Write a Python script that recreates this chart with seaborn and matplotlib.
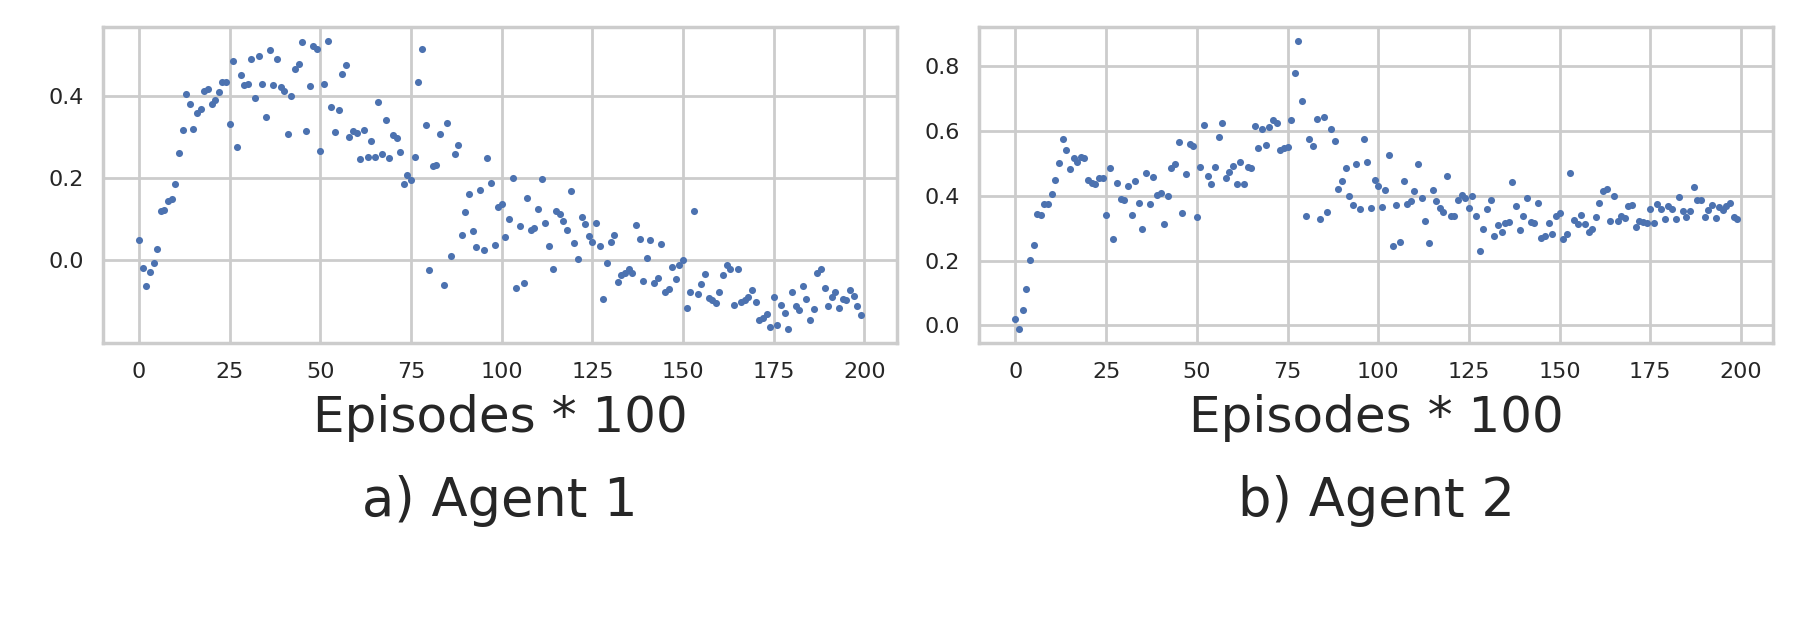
import numpy as np
import pandas as pd
import matplotlib
matplotlib.use('Agg')
import matplotlib.pyplot as plt
import seaborn as sns

# Agent 1 reward per 100 episodes
agent1 = [
    0.050, -0.019, -0.063, -0.028, -0.007, 0.028, 0.121, 0.123, 0.145, 0.149,
    0.185, 0.262, 0.318, 0.405, 0.381, 0.320, 0.359, 0.368, 0.412, 0.416,
    0.381, 0.390, 0.409, 0.433, 0.435, 0.333, 0.485, 0.277, 0.451, 0.428,
    0.430, 0.491, 0.396, 0.498, 0.430, 0.350, 0.512, 0.426, 0.489, 0.423,
    0.413, 0.307, 0.400, 0.466, 0.479, 0.531, 0.316, 0.424, 0.521, 0.515,
    0.266, 0.429, 0.533, 0.374, 0.312, 0.366, 0.454, 0.475, 0.300, 0.314,
    0.311, 0.246, 0.317, 0.251, 0.290, 0.251, 0.386, 0.259, 0.341, 0.249,
    0.304, 0.297, 0.265, 0.187, 0.207, 0.195, 0.252, 0.435, 0.515, 0.330,
    -0.023, 0.229, 0.231, 0.308, -0.061, 0.334, 0.010, 0.260, 0.281, 0.063,
    0.117, 0.162, 0.072, 0.033, 0.172, 0.025, 0.249, 0.189, 0.038, 0.129,
    0.137, 0.058, 0.101, 0.201, -0.068, 0.083, -0.056, 0.152, 0.073, 0.080,
    0.126, 0.199, 0.091, 0.034, -0.022, 0.120, 0.113, 0.095, 0.074, 0.169,
    0.042, 0.003, 0.106, 0.089, 0.060, 0.044, 0.091, 0.036, -0.095, -0.006,
    0.045, 0.063, -0.052, -0.035, -0.030, -0.022, -0.030, 0.087, 0.053, -0.051,
    0.006, 0.049, -0.054, -0.043, 0.040, -0.077, -0.070, -0.017, -0.045, -0.012,
    0.002, -0.115, -0.078, 0.121, -0.081, -0.057, -0.032, -0.092, -0.096, -0.104,
    -0.076, -0.036, -0.011, -0.022, -0.108, -0.022, -0.102, -0.097, -0.090, -0.072,
    -0.102, -0.146, -0.140, -0.130, -0.162, -0.090, -0.156, -0.108, -0.128, -0.166,
    -0.077, -0.112, -0.121, -0.062, -0.093, -0.145, -0.117, -0.030, -0.020, -0.066,
    -0.110, -0.090, -0.078, -0.116, -0.095, -0.097, -0.073, -0.086, -0.110, -0.133,
]

# Agent 2 reward per 100 episodes
agent2 = [
    0.021, -0.010, 0.048, 0.112, 0.203, 0.249, 0.345, 0.341, 0.375, 0.374,
    0.405, 0.449, 0.502, 0.574, 0.542, 0.483, 0.516, 0.504, 0.520, 0.515,
    0.447, 0.439, 0.437, 0.454, 0.456, 0.341, 0.484, 0.267, 0.438, 0.390,
    0.387, 0.429, 0.342, 0.444, 0.378, 0.297, 0.470, 0.375, 0.457, 0.403,
    0.409, 0.313, 0.400, 0.487, 0.499, 0.565, 0.347, 0.468, 0.559, 0.552,
    0.334, 0.488, 0.618, 0.462, 0.435, 0.489, 0.581, 0.623, 0.454, 0.473,
    0.492, 0.435, 0.505, 0.437, 0.489, 0.485, 0.615, 0.547, 0.606, 0.557,
    0.613, 0.632, 0.625, 0.542, 0.548, 0.551, 0.634, 0.778, 0.876, 0.691,
    0.337, 0.575, 0.552, 0.637, 0.327, 0.644, 0.349, 0.605, 0.569, 0.421,
    0.445, 0.485, 0.398, 0.370, 0.497, 0.359, 0.574, 0.505, 0.361, 0.448,
    0.430, 0.364, 0.417, 0.525, 0.244, 0.371, 0.256, 0.445, 0.374, 0.383,
    0.415, 0.497, 0.394, 0.322, 0.253, 0.418, 0.383, 0.363, 0.349, 0.461,
    0.338, 0.337, 0.388, 0.403, 0.394, 0.363, 0.400, 0.338, 0.229, 0.297,
    0.360, 0.387, 0.277, 0.310, 0.289, 0.317, 0.319, 0.443, 0.368, 0.294,
    0.338, 0.394, 0.318, 0.316, 0.376, 0.271, 0.275, 0.317, 0.282, 0.336,
    0.346, 0.265, 0.282, 0.470, 0.326, 0.313, 0.341, 0.313, 0.287, 0.298,
    0.334, 0.376, 0.414, 0.422, 0.322, 0.398, 0.322, 0.338, 0.332, 0.367,
    0.372, 0.304, 0.321, 0.318, 0.315, 0.360, 0.315, 0.373, 0.359, 0.329,
    0.367, 0.358, 0.328, 0.397, 0.354, 0.334, 0.354, 0.427, 0.388, 0.387,
    0.335, 0.356, 0.372, 0.331, 0.365, 0.357, 0.369, 0.377, 0.333, 0.328,
]

episodes = list(range(200))
x_ticks = [0, 25, 50, 75, 100, 125, 150, 175, 200]
y_ticks_1 = [0.0, 0.2, 0.4]
y_ticks_2 = [0.0, 0.2, 0.4, 0.6, 0.8]
subtitles = ['a) Agent 1', 'b) Agent 2']

sns.set_theme(style='whitegrid')
plt.rcParams['font.family'] = ['DejaVu Sans']

fig = plt.figure(figsize=(9, 3.12), dpi=200)
ax1 = fig.add_axes([0.0572, 0.4503, 0.4411, 0.5064])
ax2 = fig.add_axes([0.5441, 0.4503, 0.4411, 0.5064])

panels = [(ax1, agent1, y_ticks_1), (ax2, agent2, y_ticks_2)]
for i, (ax, vals, yt) in enumerate(panels):
    df = pd.DataFrame({'episode': episodes, 'reward': vals})
    sns.scatterplot(data=df, x='episode', y='reward', ax=ax, s=6.5,
                    color='#4C72B0', linewidth=0)
    ax.set_xticks(x_ticks)
    ax.set_yticks(yt)
    ax.tick_params(axis='both', labelsize=8, length=0, pad=7, colors='#262626')
    ax.set_xlabel('Episodes * 100', fontsize=18, labelpad=4, color='#262626')
    ax.set_ylabel('')
    ax.text(0.5, -0.50, subtitles[i], transform=ax.transAxes, fontsize=19,
            ha='center', va='center', color='#262626')
    for sp in ax.spines.values():
        sp.set_color('#cccccc')

fig.savefig('out.png', dpi=200)
